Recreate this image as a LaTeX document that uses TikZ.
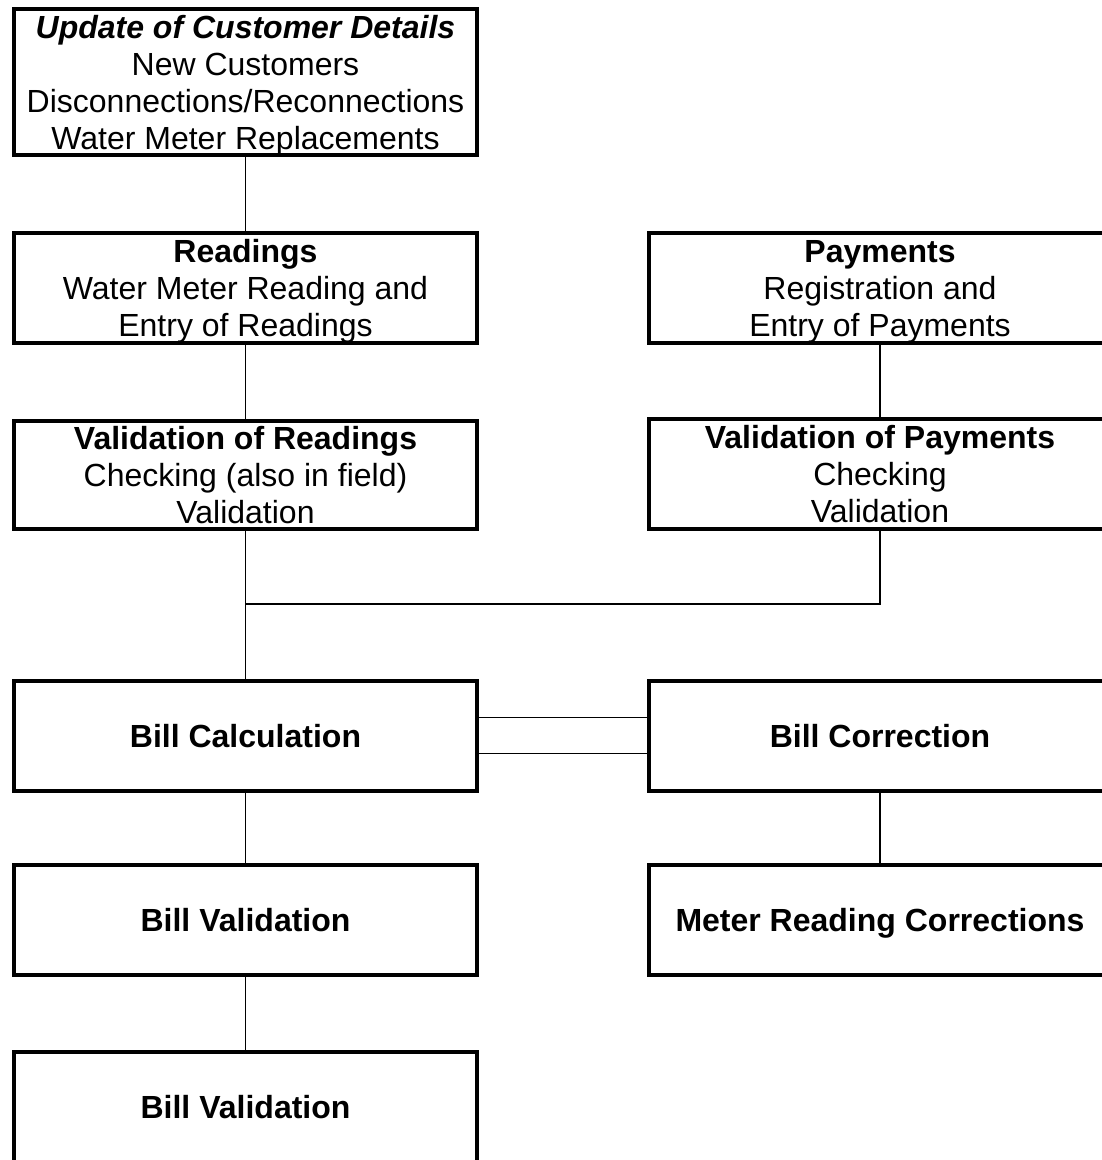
\documentclass[tikz,border=0pt]{standalone}
\usepackage{fontspec}
\setmainfont{Liberation Sans}
\usetikzlibrary{positioning}

\begin{document}
\begin{tikzpicture}[x=1pt,y=-1pt,
        box/.style={draw,line width=4pt,minimum width=463pt,minimum height=110pt,
          align=center,inner sep=0pt,text depth=0pt,font=\fontsize{32}{37}\selectfont},
        link/.style={line width=1.3pt}]

  \clip (0,0) rectangle (1102,1160);

  \node[box,minimum height=146pt] (upd) at (245.5,82)
    {\textbf{\textit{Update of Customer Details}}\\New Customers\\
     Disconnections/Reconnections\\Water Meter Replacements};

  \node[box] (read) at (245.5,288) {\textbf{Readings}\\Water Meter Reading and\\Entry of Readings};
  \node[box] (pay) at (880,288) {\textbf{Payments}\\Registration and\\Entry of Payments};

  \node[box,minimum height=108pt] (vread) at (245.5,475)
    {\textbf{Validation of Readings}\\Checking (also in field)\\Validation};
  \node[box,minimum height=110pt] (vpay) at (880,474)
    {\textbf{Validation of Payments}\\Checking\\Validation};

  \coordinate (join) at (245.5,604);

  \node[box] (calc) at (245.5,735.5) {\textbf{Bill Calculation}};
  \node[box] (corr) at (880,735.5) {\textbf{Bill Correction}};

  \node[box] (bval) at (245.5,920) {\textbf{Bill Validation}};
  \node[box] (mcor) at (880,920) {\textbf{Meter Reading Corrections}};

  \node[box] (bval2) at (245.5,1107) {\textbf{Bill Validation}};

  % connectors
  \draw[link] (upd) -- (read);
  \draw[link] (read) -- (vread);
  \draw[link] (pay) -- (vpay);
  \draw[link] (vread) -- (calc);
  \draw[link] (vpay.south) |- (join);
  \draw[link] ([yshift=18pt]calc.east) -- ([yshift=18pt]corr.west);
  \draw[link] ([yshift=-18pt]calc.east) -- ([yshift=-18pt]corr.west);
  \draw[link] (calc) -- (bval);
  \draw[link] (corr) -- (mcor);
  \draw[link] (bval) -- (bval2);

\end{tikzpicture}
\end{document}
